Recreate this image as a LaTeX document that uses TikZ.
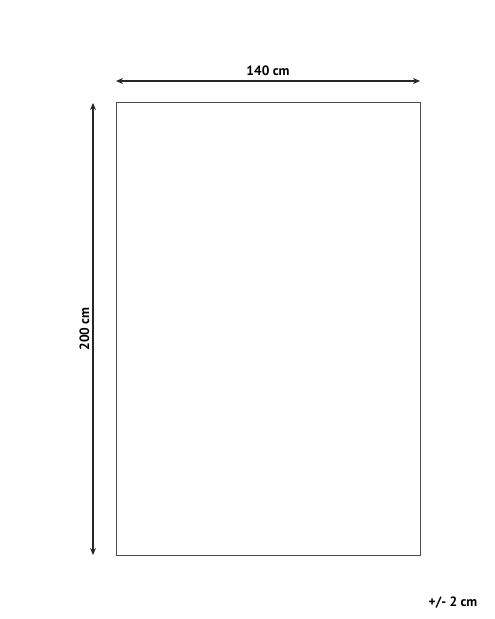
\documentclass[tikz,border=0pt]{standalone}
\usepackage{fontspec}
\setmainfont{PT Sans}
\usetikzlibrary{arrows.meta}

\begin{document}
\begin{tikzpicture}[x=1pt,y=-1pt]
    \tikzstyle{dim}=[draw=black!85,line width=1.6pt,{Stealth[length=7pt,width=6pt]}-{Stealth[length=7pt,width=6pt]}]
    \tikzstyle{every node}=[font=\bfseries\fontsize{13.5}{15}\selectfont,inner sep=0pt]
    \useasboundingbox (0,0) rectangle (495,619);
    \draw[black!70,line width=0.8pt] (116,102) rectangle (420,555);
    \coordinate (wl) at (116,81);
    \coordinate (wr) at (420,81);
    \coordinate (ht) at (93,103);
    \coordinate (hb) at (93,555);
    \draw[dim] (wl) -- (wr) node[midway,above=5pt] (width) {140 cm};
    \draw[dim] (ht) -- (hb) node[midway,left=3pt,rotate=90,anchor=south] (height) {200 cm};
    \node (tol) at (453,603) {+/- 2 cm};
  \end{tikzpicture}
\end{document}
